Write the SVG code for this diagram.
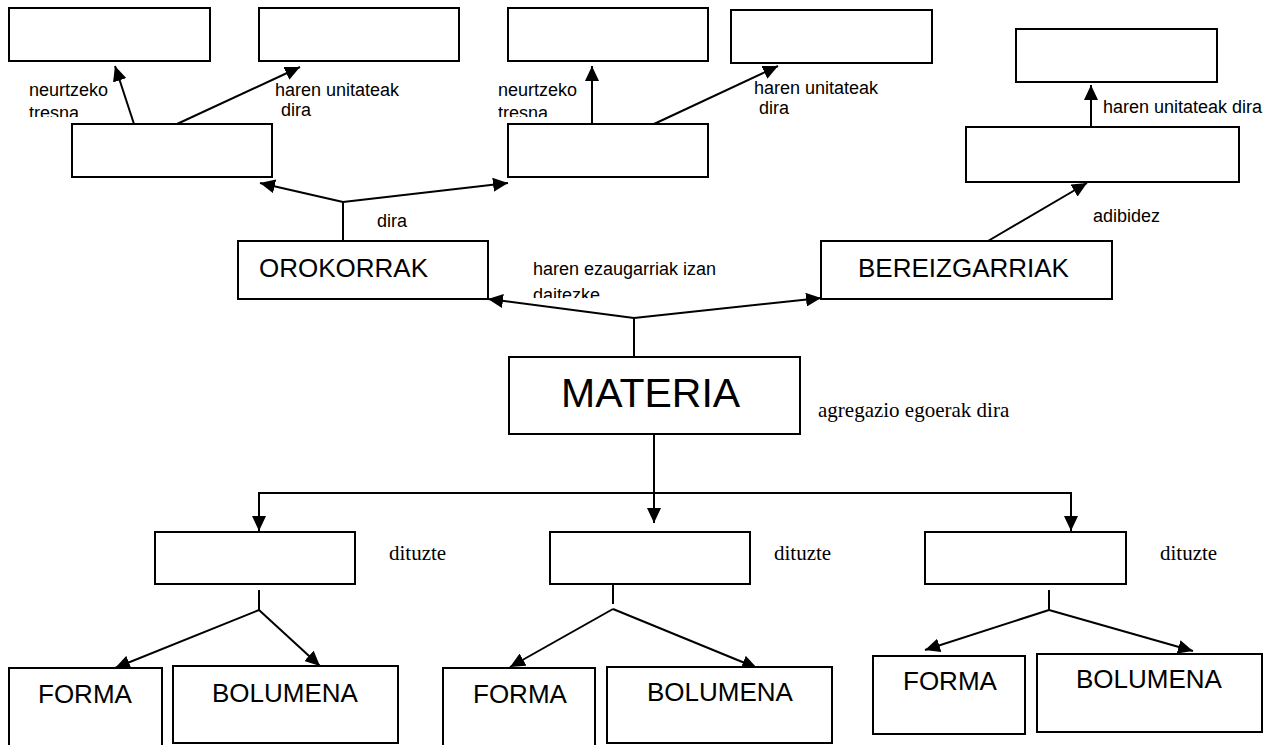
<svg xmlns="http://www.w3.org/2000/svg" width="1281" height="745" viewBox="0 0 1281 745">
<style>
.box{fill:#fff;stroke:#000;stroke-width:2}
.ln{fill:none;stroke:#000;stroke-width:2}
.arr{fill:none;stroke:#000;stroke-width:2;marker-end:url(#ah)}
.sans{font-family:"Liberation Sans",Arial,sans-serif;fill:#000}
.lbl{font-family:"Liberation Sans",Arial,sans-serif;font-size:18px;fill:#000}
.ser{font-family:"Liberation Serif","Times New Roman",serif;font-size:21px;fill:#000}
.big{font-size:26px}
</style>
<defs>
<marker id="ah" markerUnits="userSpaceOnUse" markerWidth="16" markerHeight="14" refX="15" refY="7" orient="auto">
<path d="M0,0 L15,7 L0,14 z" fill="#000"/>
</marker>
<clipPath id="c1"><rect x="0" y="70" width="260" height="47"/></clipPath>
<clipPath id="c2"><rect x="480" y="70" width="110" height="47"/></clipPath>
<clipPath id="c3"><rect x="520" y="250" width="280" height="48"/></clipPath>
</defs>
<rect width="1281" height="745" fill="#fff"/>

<g id="connectors">
<path class="arr" d="M134,124 L115,66"/>
<path class="arr" d="M177,124 L300,67"/>
<path class="arr" d="M592,124 L592,66"/>
<path class="arr" d="M654,124 L778,66"/>
<path class="arr" d="M1091,127 L1091,85"/>
<path class="arr" d="M988,241 L1087,183"/>
<path class="ln" d="M343,241 L343,202"/>
<path class="arr" d="M343,202 L260,183"/>
<path class="arr" d="M343,202 L508,183"/>
<path class="ln" d="M634,357 L634,318"/>
<path class="arr" d="M634,318 L488,299"/>
<path class="arr" d="M634,318 L821,298"/>
<path class="arr" d="M654,434 L654,523"/>
<path class="ln" d="M259,531 L259,493 L1071,493 L1071,531"/>
<path class="arr" d="M259,493 L259,531"/>
<path class="arr" d="M1071,493 L1071,531"/>
<path class="ln" d="M259,590 L259,610"/>
<path class="arr" d="M259,610 L115,668"/>
<path class="arr" d="M259,610 L320,666"/>
<path class="ln" d="M613,585 L613,604"/>
<path class="arr" d="M613,609 L510,667"/>
<path class="arr" d="M613,609 L757,668"/>
<path class="ln" d="M1049,590 L1049,610"/>
<path class="arr" d="M1049,610 L925,650"/>
<path class="arr" d="M1049,610 L1193,651"/>
</g>

<g id="labels">
<g clip-path="url(#c1)">
<text class="lbl" x="29" y="96">neurtzeko</text>
<text class="lbl" x="29" y="119">tresna</text>
</g>
<text class="lbl" x="275" y="96">haren unitateak</text>
<text class="lbl" x="281" y="116">dira</text>
<g clip-path="url(#c2)">
<text class="lbl" x="498" y="96">neurtzeko</text>
<text class="lbl" x="498" y="119">tresna</text>
</g>
<text class="lbl" x="754" y="94">haren unitateak</text>
<text class="lbl" x="759" y="114">dira</text>
<text class="lbl" x="1103" y="113">haren unitateak dira</text>
<text class="lbl" x="377" y="227">dira</text>
<text class="lbl" x="1093" y="222">adibidez</text>
<g clip-path="url(#c3)">
<text class="lbl" x="533" y="275">haren ezaugarriak izan</text>
<text class="lbl" x="533" y="301">daitezke</text>
</g>
<text class="ser" x="818" y="417">agregazio egoerak dira</text>
<text class="ser" x="389" y="560">dituzte</text>
<text class="ser" x="774" y="560">dituzte</text>
<text class="ser" x="1160" y="560">dituzte</text>
</g>

<g id="a1"><rect class="box" x="9" y="8" width="201" height="53"/></g>
<g id="a2"><rect class="box" x="259" y="8" width="200" height="53"/></g>
<g id="a3"><rect class="box" x="508" y="8" width="200" height="53"/></g>
<g id="a4"><rect class="box" x="731" y="10" width="201" height="53"/></g>
<g id="b1"><rect class="box" x="72" y="124" width="200" height="53"/></g>
<g id="b2"><rect class="box" x="508" y="124" width="200" height="53"/></g>
<g id="c1n"><rect class="box" x="1016" y="29" width="201" height="53"/></g>
<g id="c2n"><rect class="box" x="966" y="127" width="273" height="55"/></g>
<g id="orokorrak"><rect class="box" x="238" y="241" width="250" height="58"/><text class="sans big" x="259" y="277">OROKORRAK</text></g>
<g id="bereizgarriak"><rect class="box" x="821" y="241" width="291" height="58"/><text class="sans big" x="858" y="277">BEREIZGARRIAK</text></g>
<g id="materia"><rect class="box" x="509" y="357" width="291" height="77"/><text class="sans" font-size="41" x="561" y="407">MATERIA</text></g>
<g id="d1"><rect class="box" x="155" y="532" width="200" height="52"/></g>
<g id="d2"><rect class="box" x="550" y="532" width="200" height="52"/></g>
<g id="d3"><rect class="box" x="925" y="532" width="201" height="52"/></g>
<g id="forma1"><rect class="box" x="9" y="668" width="153" height="78"/><text class="sans big" x="38" y="703">FORMA</text></g>
<g id="bolumena1"><rect class="box" x="173" y="666" width="225" height="77"/><text class="sans big" x="212" y="702">BOLUMENA</text></g>
<g id="forma2"><rect class="box" x="443" y="668" width="152" height="78"/><text class="sans big" x="473" y="703">FORMA</text></g>
<g id="bolumena2"><rect class="box" x="607" y="667" width="225" height="76"/><text class="sans big" x="647" y="701">BOLUMENA</text></g>
<g id="forma3"><rect class="box" x="873" y="656" width="152" height="78"/><text class="sans big" x="903" y="690">FORMA</text></g>
<g id="bolumena3"><rect class="box" x="1037" y="654" width="225" height="78"/><text class="sans big" x="1076" y="688">BOLUMENA</text></g>
</svg>
